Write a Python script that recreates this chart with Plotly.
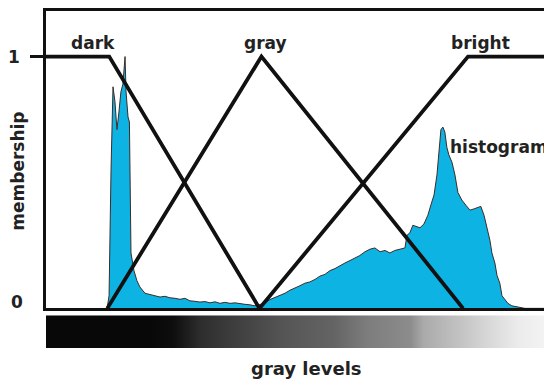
import plotly.graph_objects as go

# gray level axis runs 0..256
levels_max = 256

# membership functions (gray level, membership)
dark_x = [0, 32, 108]
dark_y = [1, 1, 0]
gray_x = [31, 109, 211]
gray_y = [0, 1, 0]
bright_x = [108, 213.5, 256]
bright_y = [0, 1, 1]

# image histogram, scaled to the membership axis
hist_x = [30.9, 31.9, 32.9, 33.9, 34.9, 35.9, 36.9, 37.9, 38.9, 40.0, 40.5, 41.5, 42.2, 43.0,
          44.5, 46.0, 47.5, 50.1, 52.6, 55.1, 57.7, 60.2, 62.7, 65.3, 67.8, 70.3, 72.8,
          75.4, 77.9, 80.4, 83.0, 85.5, 88.0, 90.5, 93.1, 95.6, 98.1, 100.7, 103.2, 105.7,
          108.2, 110.8, 113.3, 115.8, 118.4, 120.9, 123.4, 125.9, 128.5, 131.0, 133.5,
          136.1, 138.6, 141.1, 143.7, 146.2, 148.7, 151.2, 153.8, 156.3, 158.8, 161.4,
          163.9, 166.4, 169.0, 171.5, 174.0, 176.5, 179.1, 181.6, 182.6, 184.1, 185.6,
          187.6, 189.2, 191.2, 193.2, 194.7, 196.3, 197.8, 198.8, 199.8, 200.8, 201.8,
          202.8, 203.8, 205.4, 206.9, 208.4, 210.4, 212.4, 214.5, 216.5, 218.5, 220.0,
          221.6, 223.1, 224.6, 225.6, 227.1, 228.2, 229.6, 230.7, 232.2, 233.7, 235.7,
          238.7, 242.3, 256]
hist_y = [0, 0.05, 0.55, 0.88, 0.82, 0.71, 0.78, 0.86, 0.89, 1.0, 0.86, 0.76, 0.74, 0.22,
          0.15, 0.11, 0.085, 0.06, 0.055, 0.05, 0.045, 0.048, 0.042, 0.04, 0.036, 0.04, 0.03,
          0.028, 0.025, 0.027, 0.022, 0.026, 0.02, 0.024, 0.02, 0.022, 0.018, 0.016, 0.014, 0.01,
          0.015, 0.022, 0.035, 0.043, 0.05, 0.06, 0.072, 0.08, 0.09, 0.1, 0.105,
          0.115, 0.128, 0.135, 0.15, 0.158, 0.17, 0.18, 0.19, 0.2, 0.21, 0.225,
          0.235, 0.24, 0.225, 0.23, 0.22, 0.23, 0.235, 0.24, 0.29, 0.3, 0.33,
          0.325, 0.32, 0.335, 0.37, 0.41, 0.45, 0.53, 0.63, 0.71, 0.72, 0.70,
          0.64, 0.61, 0.58, 0.53, 0.46, 0.43, 0.41, 0.39, 0.395, 0.40, 0.405,
          0.37, 0.32, 0.27, 0.22, 0.18, 0.13, 0.1, 0.05, 0.035, 0.02, 0.01,
          0.005, 0, 0]

# gray level strip under the axis
bar_x = [0, 52.6, 64.2, 77.9, 93.1, 119.9, 145.2, 162.4, 184.1, 190.7, 209.4, 223.1, 238.2, 256]
bar_shade = [8, 8, 14, 45, 60, 85, 100, 125, 140, 170, 195, 215, 235, 245]

font = "DejaVu Sans"
black = "#111111"

fig = go.Figure()

fig.add_trace(go.Scatter(x=hist_x, y=hist_y, mode="lines", fill="tozeroy",
                         fillcolor="#0db3e3", line=dict(color="#3d2b28", width=1)))
for xs, ys in [(dark_x, dark_y), (gray_x, gray_y), (bright_x, bright_y)]:
    fig.add_trace(go.Scatter(x=xs, y=ys, mode="lines", cliponaxis=False,
                             line=dict(color=black, width=3.8)))

fig.add_trace(go.Heatmap(x=bar_x, y=[0, 1], z=[bar_shade, bar_shade], yaxis="y2",
                         colorscale=[[0, "black"], [1, "white"]], zmin=0, zmax=255,
                         zsmooth="best", showscale=False))

# the page body keeps an 8px margin, so the figure is 8px smaller and shifted
fig.update_layout(
    width=544, height=373,
    margin=dict(l=38, r=0, t=0, b=33),
    paper_bgcolor="white", plot_bgcolor="white",
    showlegend=False,
    font=dict(family=font, size=17, color="#222222"),
    xaxis=dict(range=[0, levels_max], showgrid=False, zeroline=False,
               showticklabels=False, ticks="", showline=True, linecolor=black,
               linewidth=3, mirror=True, anchor="y"),
    yaxis=dict(range=[0, 1.181], domain=[0.1176, 1], showgrid=False, zeroline=False,
               tickvals=[1], showticklabels=False, ticks="outside", ticklen=13,
               tickwidth=3, tickcolor=black, showline=True, linecolor=black,
               linewidth=3),
    yaxis2=dict(range=[0, 1], domain=[0, 0.097], showgrid=False, zeroline=False,
                showticklabels=False, ticks="", anchor="x"),
)

labels = [("dark", 23.8, 1.055), ("gray", 110.8, 1.055), ("bright", 220, 1.055)]
for txt, lx, ly in labels:
    fig.add_annotation(x=lx, y=ly, text="<b>%s</b>" % txt, showarrow=False,
                       xanchor="center", yanchor="middle")
fig.add_annotation(x=203.5, y=0.642, text="<b>histogram</b>", showarrow=False,
                   xanchor="left", yanchor="middle")
fig.add_annotation(x=-0.063, xref="paper", y=1, text="<b>1</b>", showarrow=False,
                   xanchor="center", yanchor="middle")
fig.add_annotation(x=-0.058, xref="paper", y=0.024, text="<b>0</b>", showarrow=False,
                   xanchor="center", yanchor="middle")
fig.add_annotation(x=-0.056, xref="paper", y=0.525, yref="paper", text="<b>membership</b>",
                   textangle=-90, showarrow=False, font=dict(size=17),
                   xanchor="center", yanchor="middle")
fig.add_annotation(x=0.514, xref="paper", y=-0.06, yref="paper", text="<b>gray levels</b>",
                   showarrow=False, font=dict(size=18), xanchor="center", yanchor="middle")

fig.write_html("out.html")
